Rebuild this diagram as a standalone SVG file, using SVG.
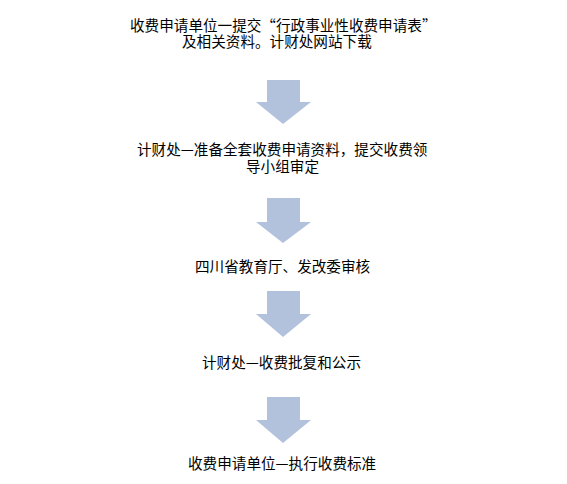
<svg xmlns="http://www.w3.org/2000/svg" width="567" height="484" viewBox="0 0 567 484">
<style>
text{font-family:"Noto Sans CJK SC","Liberation Sans",sans-serif;font-size:14.6px;fill:#000}
.arr{fill:#B3C2DC}
</style>
<rect width="567" height="484" fill="#fff"/>
<g id="n1"><text x="130" y="31">收费申请单位一提交“行政事业性收费申请表”</text><text x="182" y="47">及相关资料。计财处网站下载</text></g>
<g id="n2"><text x="137" y="155">计财处—准备全套收费申请资料，提交收费领</text><text x="246" y="172">导小组审定</text></g>
<g id="n3"><text x="195" y="272">四川省教育厅、发改委审核</text></g>
<g id="n4"><text x="202" y="368">计财处—收费批复和公示</text></g>
<g id="n5"><text x="188" y="469">收费申请单位—执行收费标准</text></g>
<g id="connectors">
<polygon class="arr" points="267,80 300,80 300,102 311,102 283,124 256,102 267,102"/>
<polygon class="arr" points="267,198 300,198 300,222 311,222 283,243 256,222 267,222"/>
<polygon class="arr" points="267,291 300,291 300,314 311,314 283,337 256,314 267,314"/>
<polygon class="arr" points="267,397 300,397 300,420 311,420 283,443 256,420 267,420"/>
</g>
</svg>
